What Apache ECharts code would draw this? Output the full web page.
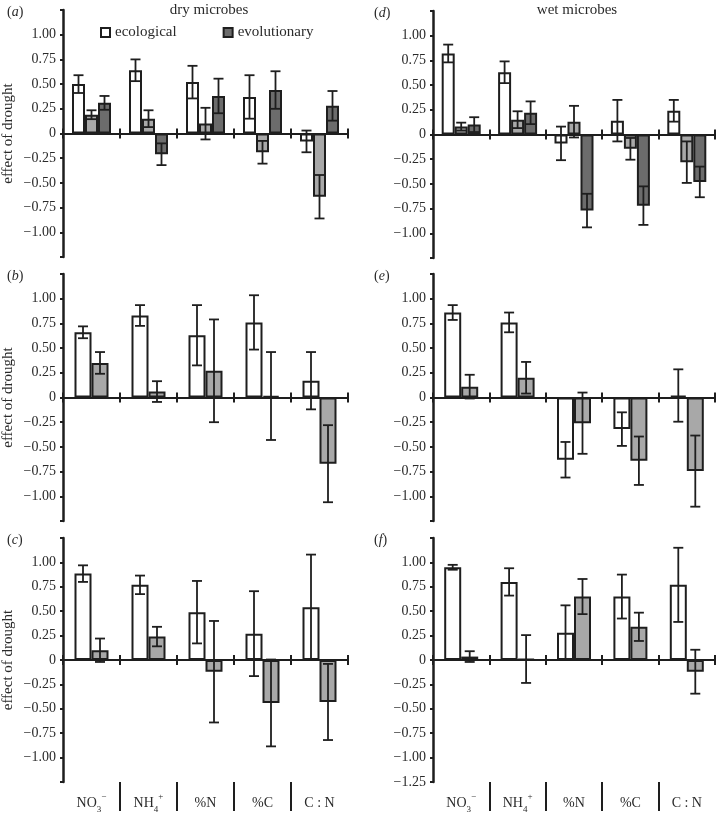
<!DOCTYPE html>
<html><head><meta charset="utf-8">
<script src="https://cdn.jsdelivr.net/npm/echarts@6/dist/echarts.min.js"></script>
<style>html,body{margin:0;padding:0;background:#fff}#c{width:717px;height:814px}</style>
</head><body><div id="c"></div>
<script>
// ---------- data ----------
const categories = ['NO3-', 'NH4+', '%N', '%C', 'C : N'];
const yTickValues = [-1.25, -1, -0.75, -0.5, -0.25, 0, 0.25, 0.5, 0.75, 1, 1.25];

// (a) dry microbes, three bars
const aEco = [0.50, 0.64, 0.52, 0.37, -0.08];
const aEcoErr = [0.09, 0.11, 0.165, 0.22, 0.11];
const aMid = [0.19, 0.15, 0.10, -0.19, -0.64];
const aMidErr = [0.045, 0.085, 0.16, 0.115, 0.22];
const aEvo = [0.31, -0.21, 0.38, 0.44, 0.28];
const aEvoErr = [0.07, 0.11, 0.175, 0.19, 0.15];

// (b) dry microbes
const bEco = [0.66, 0.83, 0.63, 0.76, 0.17];
const bEcoErr = [0.06, 0.105, 0.305, 0.275, 0.29];
const bEvo = [0.35, 0.06, 0.27, 0.015, -0.67];
const bEvoErr = [0.11, 0.105, 0.52, 0.445, 0.39];

// (c) dry microbes
const cEco = [0.885, 0.77, 0.49, 0.27, 0.54];
const cEcoErr = [0.085, 0.095, 0.32, 0.435, 0.54];
const cEvo = [0.10, 0.24, -0.12, -0.44, -0.43];
const cEvoErr = [0.12, 0.10, 0.52, 0.445, 0.39];

// (d) wet microbes, three bars
const dEco = [0.82, 0.63, -0.09, 0.14, 0.24];
const dEcoErr = [0.09, 0.11, 0.17, 0.21, 0.11];
const dMid = [0.08, 0.15, 0.13, -0.145, -0.28];
const dMidErr = [0.04, 0.085, 0.16, 0.11, 0.21];
const dEvo = [0.10, 0.22, -0.77, -0.72, -0.48];
const dEvoErr = [0.075, 0.115, 0.17, 0.195, 0.155];

// (e) wet microbes
const eEco = [0.86, 0.76, -0.63, -0.32, 0.02];
const eEcoErr = [0.075, 0.10, 0.18, 0.17, 0.265];
const eEvo = [0.11, 0.20, -0.26, -0.64, -0.745];
const eEvoErr = [0.12, 0.16, 0.31, 0.245, 0.36];

// (f) wet microbes
const fEco = [0.95, 0.80, 0.28, 0.65, 0.77];
const fEcoErr = [0.025, 0.14, 0.28, 0.225, 0.38];
const fEvo = [0.035, 0.01, 0.65, 0.34, -0.12];
const fEvoErr = [0.055, 0.245, 0.18, 0.145, 0.225];

// ---------- layout / styles ----------
const FONT = 'Liberation Serif';
const INK = '#1e1e1e';
const TXT = '#2a2a2a';
const WHITE = '#ffffff', LIGHT = '#a8a8a8', DARK = '#6c6c6c';

const panels = [
  {letter: 'a', grid: {left: 63, top: 10, width: 285, height: 247}, yName: true, bottom: false, minLabel: false,
   bars: [['ecological', aEco, aEcoErr, WHITE], ['intermediate', aMid, aMidErr, LIGHT], ['evolutionary', aEvo, aEvoErr, DARK]]},
  {letter: 'b', grid: {left: 63, top: 274, width: 285, height: 247}, yName: true, bottom: false, minLabel: false,
   bars: [['ecological', bEco, bEcoErr, WHITE], ['evolutionary', bEvo, bEvoErr, LIGHT]]},
  {letter: 'c', grid: {left: 63, top: 538, width: 285, height: 247}, yName: true, bottom: true, minLabel: false,
   bars: [['ecological', cEco, cEcoErr, WHITE], ['evolutionary', cEvo, cEvoErr, LIGHT]]},
  {letter: 'd', grid: {left: 433, top: 11, width: 282, height: 247}, yName: false, bottom: false, minLabel: false,
   bars: [['ecological', dEco, dEcoErr, WHITE], ['intermediate', dMid, dMidErr, LIGHT], ['evolutionary', dEvo, dEvoErr, DARK]]},
  {letter: 'e', grid: {left: 433, top: 274, width: 282, height: 247}, yName: false, bottom: false, minLabel: false,
   bars: [['ecological', eEco, eEcoErr, WHITE], ['evolutionary', eEvo, eEvoErr, LIGHT]]},
  {letter: 'f', grid: {left: 433, top: 538, width: 282, height: 247}, yName: false, bottom: true, minLabel: true,
   bars: [['ecological', fEco, fEcoErr, WHITE], ['evolutionary', fEvo, fEvoErr, LIGHT]]}
];

function richCat(name) {
  if (name === 'NO3-') return 'NO{sub|3}{sup|−}';
  if (name === 'NH4+') return 'NH{sub|4}{sup|+}';
  return name;
}

const grids = [], xAxes = [], yAxes = [], series = [], titles = [];

panels.forEach((p, gi) => {
  grids.push(Object.assign({containLabel: false}, p.grid));
  const n = p.bars.length;
  const bw = n === 3 ? 13 : 17;

  const yMain = yAxes.length;
  yAxes.push({
    gridIndex: gi, type: 'value', min: -1.25, max: 1.25, interval: 0.25, position: 'left',
    axisLine: {show: true, lineStyle: {color: INK, width: 2.5}},
    axisTick: {show: true, length: 3, lineStyle: {color: INK, width: 2}},
    splitLine: {show: false},
    axisLabel: {
      color: TXT, fontFamily: FONT, fontSize: 14, margin: 7,
      formatter: v => {
        if (Math.abs(v) > 1.2) return (p.minLabel && v < 0) ? '−1.25' : '';
        if (Math.abs(v) < 1e-9) return '0';
        return v.toFixed(2).replace('-', '−');
      }
    },
    name: p.yName ? 'effect of drought' : '',
    nameLocation: 'middle', nameGap: 47,
    nameTextStyle: {color: TXT, fontFamily: FONT, fontSize: 15}
  });
  // hidden twin value axis so the upward tick axis can also sit on zero
  const yTwin = yAxes.length;
  yAxes.push({
    gridIndex: gi, type: 'value', min: -1.25, max: 1.25, interval: 0.25, position: 'right',
    show: false, splitLine: {show: false}
  });

  const xBase = xAxes.length;
  xAxes.push({
    gridIndex: gi, type: 'category', data: categories, position: 'bottom',
    axisLine: {show: true, onZero: true, onZeroAxisIndex: yMain, lineStyle: {color: INK, width: 2}},
    axisTick: {show: true, length: 5, lineStyle: {color: INK, width: 2}},
    axisLabel: {show: false}, splitLine: {show: false}
  });
  xAxes.push({
    gridIndex: gi, type: 'category', data: categories, position: 'top',
    axisLine: {show: true, onZero: true, onZeroAxisIndex: yTwin, lineStyle: {color: INK, width: 2}},
    axisTick: {show: true, length: 5, lineStyle: {color: INK, width: 2}},
    axisLabel: {show: false}, splitLine: {show: false}
  });
  if (p.bottom) {
    xAxes.push({
      gridIndex: gi, type: 'value', min: 0, max: 5, interval: 1, position: 'bottom',
      axisLine: {show: false, onZero: false},
      axisTick: {show: true, length: 29, customValues: [1, 2, 3, 4], lineStyle: {color: INK, width: 2}},
      splitLine: {show: false},
      axisLabel: {
        show: true, customValues: [0.5, 1.5, 2.5, 3.5, 4.5], margin: 10,
        color: TXT, fontFamily: FONT, fontSize: 14, lineHeight: 22,
        formatter: v => richCat(categories[Math.floor(v)]),
        rich: {
          sub: {fontFamily: FONT, fontSize: 9, lineHeight: 10, verticalAlign: 'bottom', color: TXT},
          sup: {fontFamily: FONT, fontSize: 9, lineHeight: 10, verticalAlign: 'top', color: TXT}
        }
      }
    });
  }

  p.bars.forEach(([name, vals, errs, color], s) => {
    series.push({
      type: 'bar', name: name, xAxisIndex: xBase, yAxisIndex: yMain,
      data: vals, barWidth: bw, barGap: '0%',
      itemStyle: {color: color, borderColor: INK, borderWidth: 2},
      emphasis: {disabled: true}, z: 2, animation: false
    });
  });
  p.bars.forEach(([name, vals, errs, color], s) => {
    series.push({
      type: 'custom', name: name + ' error', xAxisIndex: xBase, yAxisIndex: yMain,
      data: vals.map((v, i) => [i, v, errs[i]]),
      encode: {x: 0, y: 1}, clip: false, z: 5, animation: false, silent: true,
      renderItem: (params, api) => {
        const i = api.value(0), v = api.value(1), e = api.value(2);
        const c = api.coord([i, v]);
        const x = c[0] + (s - (n - 1) / 2) * bw;
        const yt = api.coord([i, v + e])[1];
        const yb = api.coord([i, v - e])[1];
        const cap = 5;
        const st = {stroke: INK, lineWidth: 1.8};
        return {type: 'group', children: [
          {type: 'line', shape: {x1: x, y1: yt, x2: x, y2: yb}, style: st},
          {type: 'line', shape: {x1: x - cap, y1: yt, x2: x + cap, y2: yt}, style: st},
          {type: 'line', shape: {x1: x - cap, y1: yb, x2: x + cap, y2: yb}, style: st}
        ]};
      }
    });
  });

  titles.push({
    text: '({i|' + p.letter + '})',
    left: p.grid.left < 200 ? 2 : 369, top: p.grid.top - 10,
    textStyle: {fontFamily: FONT, fontSize: 14, fontWeight: 'normal', color: TXT,
      rich: {i: {fontFamily: FONT, fontSize: 14, fontStyle: 'italic', color: TXT}}}
  });
});

titles.push({text: 'dry microbes', left: 204, top: -2, textAlign: 'center',
  textStyle: {fontFamily: FONT, fontSize: 15, fontWeight: 'normal', color: TXT}});
titles.push({text: 'wet microbes', left: 572, top: -2, textAlign: 'center',
  textStyle: {fontFamily: FONT, fontSize: 15, fontWeight: 'normal', color: TXT}});

const chart = echarts.init(document.getElementById('c'), null, {renderer: 'canvas'});
chart.setOption({
  backgroundColor: '#ffffff',
  animation: false,
  title: titles,
  legend: {
    data: ['ecological', 'evolutionary'],
    left: 95, top: 20, itemWidth: 9, itemHeight: 9, itemGap: 46, icon: 'rect',
    textStyle: {fontFamily: FONT, fontSize: 15, color: TXT},
    selectedMode: false
  },
  grid: grids,
  xAxis: xAxes,
  yAxis: yAxes,
  series: series
});
</script>
</body></html>
